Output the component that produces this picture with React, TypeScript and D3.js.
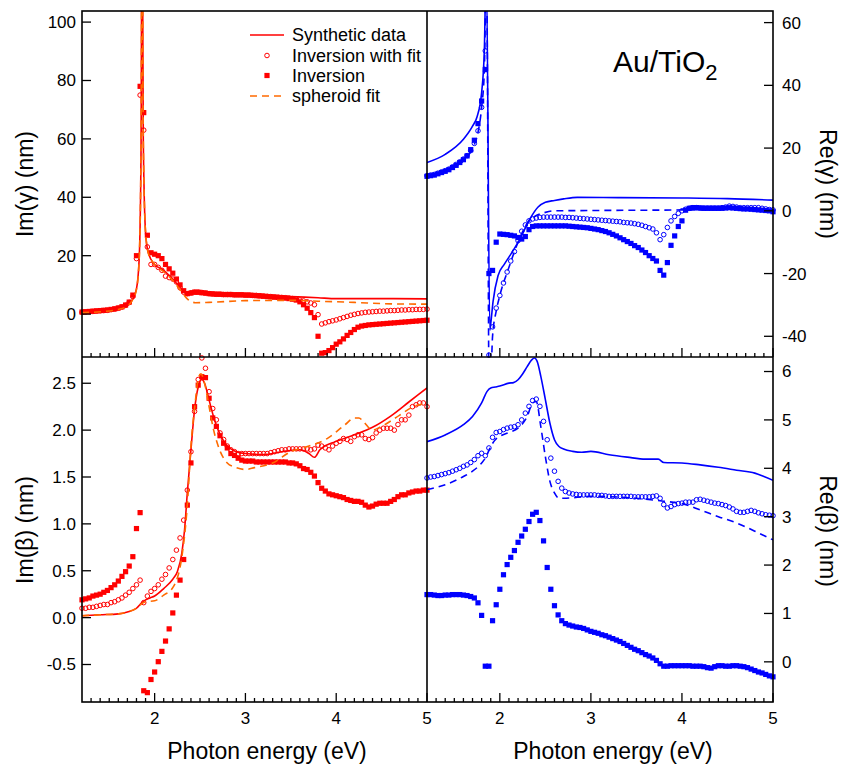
import React from "react";
import * as d3 from "d3";

// ---------- shared energy grid for the inversion markers (eV) ----------
const energyGrid = [
  1.20,1.24,1.28,1.32,1.36,1.40,1.44,1.48,1.52,1.56,
  1.60,1.64,1.68,1.72,1.76,1.80,1.84,1.88,1.92,1.96,
  2.00,2.04,2.08,2.12,2.16,2.20,2.24,2.28,2.32,2.36,
  2.40,2.44,2.48,2.52,2.56,2.60,2.64,2.68,2.72,2.76,
  2.80,2.84,2.88,2.92,2.96,3.00,3.04,3.08,3.12,3.16,
  3.20,3.24,3.28,3.32,3.36,3.40,3.44,3.48,3.52,3.56,
  3.60,3.64,3.68,3.72,3.76,3.80,3.84,3.88,3.92,3.96,
  4.00,4.04,4.08,4.12,4.16,4.20,4.24,4.28,4.32,4.36,
  4.40,4.44,4.48,4.52,4.56,4.60,4.64,4.68,4.72,4.76,
  4.80,4.84,4.88,4.92,4.96,5.00,
];

// ---------- Im(gamma) ----------
const imGammaCircles = [
  0.6,0.7,0.8,0.9,1.0,1.1,1.2,1.3,1.5,1.7,
  2.0,2.4,3.0,4.0,6.0,19,75,63,23,17,
  17,16,15,13,12.5,12,11,9,7.5,7,
  7.3,7.5,7.5,7.4,7.2,7.0,6.9,6.8,6.8,6.7,
  6.7,6.7,6.6,6.6,6.6,6.5,6.5,6.4,6.4,6.3,
  6.2,6.1,6.0,5.9,5.8,5.7,5.6,5.5,5.3,5.1,
  4.8,4.5,4.2,3.8,3.2,-0.2,-3.4,-3.0,-2.6,-2.3,
  -2.0,-1.6,-1.2,-0.8,-0.4,-0.1,0.2,0.4,0.6,0.7,
  0.8,0.9,1.0,1.0,1.1,1.2,1.2,1.3,1.4,1.4,
  1.5,1.5,1.6,1.6,1.6,1.7,
];
const imGammaSquares = [
  0.7,0.8,0.9,1.0,1.1,1.2,1.3,1.4,1.6,1.8,
  2.1,2.5,3.1,4.1,6.5,20,78,69,27,21,
  20.5,20,19,17,15.5,14,12,10,8,7,
  7.2,7.5,7.5,7.3,7.2,7.0,6.9,6.8,6.8,6.7,
  6.7,6.7,6.6,6.6,6.6,6.5,6.5,6.4,6.3,6.2,
  6.1,6.0,5.9,5.8,5.7,5.6,5.5,5.3,5.1,4.8,
  4.2,3.2,2.0,0.5,-1.2,-7.6,-13.4,-13.2,-12.5,-11.5,
  -10.3,-9.5,-8.5,-7.3,-6.3,-5.3,-4.5,-4.1,-3.9,-3.7,
  -3.6,-3.5,-3.4,-3.3,-3.2,-3.1,-3.0,-2.9,-2.8,-2.7,
  -2.6,-2.5,-2.4,-2.3,-2.2,-2.1,
];
const imGammaSynthE = [1.2,1.4,1.6,1.7,1.75,1.8,1.83,1.85,1.862,1.875,1.9,1.93,2.0,2.1,2.2,2.3,2.35,2.45,2.5,2.7,3.0,3.3,3.5,3.8,4.0,4.5,5.0];
const imGammaSynth = [0.6,0.9,1.7,2.9,4.6,8.6,19,55,150,60,28,21,17,15,12,8.5,7.2,7.4,7.5,7.0,6.6,6.3,6.0,5.6,5.3,5.3,5.2];
const imGammaFitE = [1.2,1.4,1.6,1.7,1.75,1.8,1.83,1.85,1.862,1.875,1.9,1.93,2.0,2.1,2.2,2.3,2.36,2.45,2.6,3.0,3.5,3.8,4.2,4.6,5.0];
const imGammaFit = [0.5,0.8,1.6,2.8,4.5,8.5,19,55,150,60,28,21,17,14.5,11.5,7.5,5.2,3.9,4.0,4.6,4.7,4.4,4.0,3.5,3.4];

// ---------- Re(gamma) ----------
const reGammaCircles = [
  11.2,11.4,11.6,12.0,12.4,12.8,13.3,14.0,14.8,15.6,
  16.5,17.6,19.2,21.5,25.5,33,51,-46,-37,-31,
  -27,-23,-19.5,-16,-13,-9.5,-6.5,-4.5,-3.2,-2.6,
  -2.3,-2.1,-2.0,-2.0,-2.0,-2.0,-2.0,-2.0,-2.1,-2.1,
  -2.2,-2.3,-2.4,-2.5,-2.6,-2.7,-2.8,-2.9,-3.0,-3.1,
  -3.2,-3.3,-3.4,-3.5,-3.7,-3.8,-3.9,-4.1,-4.3,-4.6,
  -5.0,-5.4,-5.8,-7.0,-9.2,-7.6,-5.3,-3.2,-1.8,-0.8,
  0.0,0.5,0.8,1.0,1.0,0.9,0.9,0.9,0.9,0.9,
  0.9,1.0,1.2,1.5,1.4,1.2,1.0,1.0,1.0,1.0,
  1.0,1.0,0.8,0.6,0.4,0.3,
];
const reGammaSquares = [
  11.0,11.2,11.4,11.8,12.2,12.6,13.1,13.8,14.5,15.4,
  16.3,17.5,19.5,22.5,27.8,35,45,-20,-19,-10,
  -7.4,-7.5,-7.6,-7.8,-8.0,-8.5,-9.0,-8.2,-6.0,-5.0,
  -4.8,-4.8,-4.8,-4.8,-4.8,-4.8,-4.8,-4.8,-4.8,-4.9,
  -5.0,-5.1,-5.2,-5.3,-5.4,-5.6,-5.8,-6.0,-6.3,-6.6,
  -7.0,-7.5,-8.0,-8.6,-9.2,-9.8,-10.4,-11.1,-11.7,-12.5,
  -13.3,-14.3,-15.2,-16.0,-19.0,-20.5,-16.5,-11.0,-8.0,-5.0,
  -3.2,0.2,0.8,1.0,1.0,0.9,0.8,0.8,0.8,0.8,
  0.8,0.8,0.9,1.0,0.9,0.8,0.7,0.6,0.6,0.5,
  0.4,0.3,0.2,0.1,0.0,-0.3,
];
const reGammaSynthE = [1.2,1.4,1.6,1.7,1.75,1.8,1.83,1.848,1.853,1.89,1.9,1.925,1.98,2.05,2.11,2.22,2.33,2.42,2.5,2.6,2.7,2.85,3.3,4.0,4.5,5.0];
const reGammaSynth = [15.4,18,22.8,27,30,37.7,51.5,75,75,-38,-36,-29,-20.7,-17,-14.3,-9,-2.6,1.2,2.7,3.3,3.8,4.3,4.2,4.1,3.9,3.4];
const reGammaFitE = [1.2,1.4,1.6,1.7,1.76,1.8,1.83,1.848,1.856,1.885,1.92,1.96,2.0,2.1,2.2,2.3,2.4,2.5,2.6,3.0,4.0,4.5,5.0];
const reGammaFit = [11,12.5,16,20,25,33,45,70,70,-70,-40,-32,-27,-18,-10,-4,-1.5,-0.5,0,0.1,0.3,0.6,0.3];

// ---------- Im(beta) ----------
const imBetaCircles = [
  0.10,0.10,0.11,0.11,0.12,0.13,0.14,0.14,0.16,0.17,
  0.19,0.21,0.24,0.27,0.31,0.35,0.40,0.16,0.23,0.28,
  0.31,0.35,0.41,0.46,0.53,0.62,0.72,0.85,1.04,1.36,
  1.77,2.20,2.54,2.77,2.66,2.41,2.23,2.11,1.97,1.90,
  1.83,1.79,1.77,1.75,1.75,1.75,1.75,1.75,1.75,1.75,
  1.75,1.75,1.76,1.77,1.78,1.79,1.79,1.80,1.80,1.80,
  1.80,1.80,1.80,1.79,1.80,1.84,1.83,1.81,1.79,1.83,
  1.86,1.88,1.91,1.90,1.88,1.93,1.95,1.95,1.91,1.90,
  1.92,1.97,2.00,2.02,2.02,2.02,2.00,2.06,2.11,2.11,
  2.16,2.25,2.27,2.29,2.29,2.25,
];
const imBetaSquares = [
  0.19,0.20,0.21,0.23,0.24,0.25,0.27,0.29,0.32,0.35,
  0.39,0.44,0.49,0.55,0.65,0.95,1.12,-0.78,-0.80,-0.66,
  -0.58,-0.47,-0.36,-0.25,-0.12,0.05,0.24,0.40,0.62,1.20,
  1.65,2.25,2.48,2.57,2.56,2.34,2.13,2.04,1.94,1.86,
  1.81,1.75,1.73,1.70,1.68,1.67,1.67,1.67,1.66,1.66,
  1.66,1.66,1.66,1.66,1.66,1.66,1.66,1.65,1.65,1.64,
  1.62,1.59,1.58,1.55,1.51,1.44,1.38,1.35,1.32,1.31,
  1.30,1.29,1.28,1.26,1.25,1.24,1.24,1.23,1.20,1.18,
  1.19,1.21,1.22,1.22,1.22,1.24,1.26,1.29,1.31,1.31,
  1.33,1.34,1.35,1.35,1.36,1.36,
];
const imBetaSynthE = [1.2,1.4,1.6,1.7,1.8,1.86,1.9,1.95,2.0,2.1,2.2,2.25,2.3,2.33,2.36,2.4,2.44,2.48,2.52,2.55,2.6,2.65,2.7,2.75,2.8,2.9,3.0,3.2,3.4,3.6,3.7,3.76,3.82,4.0,4.2,4.4,4.6,4.8,5.0];
const imBetaSynth = [0.02,0.03,0.04,0.06,0.10,0.16,0.19,0.21,0.23,0.31,0.41,0.49,0.69,0.94,1.33,1.79,2.22,2.46,2.54,2.5,2.32,2.14,2.0,1.9,1.83,1.77,1.75,1.74,1.77,1.79,1.75,1.71,1.79,1.88,1.95,2.03,2.15,2.30,2.45];
const imBetaFitE = [1.2,1.4,1.6,1.7,1.8,1.86,1.9,2.0,2.1,2.2,2.3,2.36,2.4,2.45,2.48,2.51,2.55,2.6,2.65,2.7,2.8,2.9,3.0,3.1,3.3,3.5,3.7,3.9,4.1,4.2,4.25,4.3,4.4,4.5,4.7,4.85,5.0];
const imBetaFit = [0.02,0.03,0.04,0.06,0.10,0.15,0.17,0.18,0.24,0.32,0.65,1.2,1.83,2.32,2.55,2.6,2.5,2.25,2.0,1.83,1.65,1.6,1.58,1.6,1.65,1.77,1.83,1.91,2.06,2.13,2.13,2.09,2.0,2.04,2.16,2.25,2.29];

// ---------- Re(beta) ----------
const reBetaCircles = [
  3.80,3.82,3.83,3.85,3.87,3.89,3.91,3.94,3.97,4.00,
  4.04,4.07,4.12,4.18,4.26,4.31,4.26,4.42,4.64,4.74,
  4.76,4.80,4.83,4.85,4.86,4.90,5.00,5.14,5.28,5.40,
  5.43,5.28,4.97,4.59,4.21,3.94,3.73,3.59,3.52,3.49,
  3.47,3.46,3.45,3.45,3.45,3.45,3.45,3.44,3.44,3.43,
  3.42,3.42,3.42,3.42,3.42,3.42,3.42,3.41,3.41,3.41,
  3.41,3.41,3.42,3.43,3.38,3.25,3.18,3.21,3.25,3.27,
  3.28,3.30,3.30,3.30,3.35,3.36,3.34,3.32,3.30,3.28,
  3.27,3.25,3.23,3.20,3.16,3.11,3.09,3.09,3.11,3.13,
  3.11,3.08,3.06,3.04,3.03,3.02,
];
const reBetaSquares = [
  1.39,1.39,1.38,1.37,1.37,1.38,1.38,1.39,1.39,1.39,
  1.38,1.37,1.35,1.32,1.22,0.96,-0.09,-0.09,0.85,1.18,
  1.50,1.80,2.01,2.16,2.30,2.47,2.60,2.74,2.90,3.05,
  3.09,2.92,2.50,1.95,1.50,1.16,0.97,0.85,0.79,0.76,
  0.74,0.72,0.71,0.69,0.66,0.63,0.61,0.59,0.56,0.54,
  0.51,0.48,0.45,0.42,0.38,0.34,0.30,0.26,0.23,0.19,
  0.15,0.12,0.08,0.03,-0.04,-0.09,-0.09,-0.08,-0.08,-0.08,
  -0.08,-0.08,-0.08,-0.09,-0.09,-0.09,-0.10,-0.12,-0.13,-0.10,
  -0.08,-0.08,-0.09,-0.09,-0.08,-0.08,-0.09,-0.10,-0.12,-0.15,
  -0.18,-0.21,-0.23,-0.26,-0.29,-0.31,
];
const reBetaSynthE = [1.2,1.4,1.6,1.7,1.8,1.86,1.9,1.95,2.0,2.1,2.15,2.2,2.25,2.3,2.35,2.38,2.41,2.45,2.5,2.55,2.6,2.65,2.7,2.8,2.9,3.0,3.2,3.4,3.6,3.74,3.8,4.0,4.2,4.4,4.6,4.8,4.9,5.0];
const reBetaSynth = [4.55,4.69,4.9,5.07,5.35,5.59,5.66,5.68,5.7,5.76,5.77,5.83,5.95,6.1,6.24,6.28,6.21,5.9,5.42,4.93,4.59,4.45,4.4,4.35,4.33,4.35,4.28,4.23,4.19,4.19,4.12,4.11,4.07,4.02,3.96,3.9,3.83,3.75];
const reBetaFitE = [1.2,1.4,1.6,1.7,1.8,1.84,1.9,1.95,2.0,2.1,2.2,2.3,2.36,2.4,2.45,2.5,2.55,2.6,2.65,2.7,3.0,3.5,3.8,4.0,4.2,4.4,4.6,4.8,5.0];
const reBetaFit = [3.56,3.66,3.83,3.94,4.11,4.21,4.45,4.59,4.66,4.74,4.83,5.07,5.35,5.38,4.86,4.24,3.73,3.49,3.38,3.38,3.42,3.38,3.32,3.27,3.14,3.0,2.87,2.7,2.52];

// ---------- axis ticks / labels ----------
const xLabelTicks = [2, 3, 4, 5];
const imGammaTicks = [0, 20, 40, 60, 80, 100];
const reGammaTicks = [-40, -20, 0, 20, 40, 60];
const imBetaTicks = [-0.5, 0, 0.5, 1, 1.5, 2, 2.5];
const reBetaTicks = [0, 1, 2, 3, 4, 5, 6];
const legendLabels = ["Synthetic data", "Inversion with fit", "Inversion", "spheroid fit"];

const RED = "#ff0000";
const ORANGE = "#ff6a00";
const BLUE = "#0000ff";
const FONT = "'Liberation Sans', Arial, Helvetica, sans-serif";

const X0 = 82, XM = 427, X1 = 773;
const Y0 = 11, YM = 357, Y1 = 702;

type PanelDef = {
  id: string;
  xr: [number, number];
  yr: [number, number];
  dom: [number, number];
  ticks: number[];
  fmt: (v: number) => string;
  side: "left" | "right";
  col: string;
  fitCol: string;
  synthE: number[]; synth: number[];
  fitE: number[]; fit: number[];
  circ: number[]; sq: number[];
  xLabels: boolean;
};

const panels: PanelDef[] = [
  { id: "a", xr: [X0, XM], yr: [YM, Y0], dom: [-14.7, 103.8], ticks: imGammaTicks, fmt: v => String(v), side: "left",
    col: RED, fitCol: ORANGE, synthE: imGammaSynthE, synth: imGammaSynth, fitE: imGammaFitE, fit: imGammaFit,
    circ: imGammaCircles, sq: imGammaSquares, xLabels: false },
  { id: "b", xr: [XM, X1], yr: [YM, Y0], dom: [-46.6, 63.7], ticks: reGammaTicks, fmt: v => String(v), side: "right",
    col: BLUE, fitCol: BLUE, synthE: reGammaSynthE, synth: reGammaSynth, fitE: reGammaFitE, fit: reGammaFit,
    circ: reGammaCircles, sq: reGammaSquares, xLabels: false },
  { id: "c", xr: [X0, XM], yr: [Y1, YM], dom: [-0.9, 2.78], ticks: imBetaTicks, fmt: v => v.toFixed(1), side: "left",
    col: RED, fitCol: ORANGE, synthE: imBetaSynthE, synth: imBetaSynth, fitE: imBetaFitE, fit: imBetaFit,
    circ: imBetaCircles, sq: imBetaSquares, xLabels: true },
  { id: "d", xr: [XM, X1], yr: [Y1, YM], dom: [-0.83, 6.30], ticks: reBetaTicks, fmt: v => String(v), side: "right",
    col: BLUE, fitCol: BLUE, synthE: reBetaSynthE, synth: reBetaSynth, fitE: reBetaFitE, fit: reBetaFit,
    circ: reBetaCircles, sq: reBetaSquares, xLabels: true },
];

function Panel({ p }: { p: PanelDef }) {
  const x = d3.scaleLinear().domain([1.2, 5]).range(p.xr);
  const y = d3.scaleLinear().domain(p.dom).range(p.yr);
  const line = d3.line<[number, number]>().x(d => x(d[0])).y(d => y(d[1])).curve(d3.curveMonotoneX);
  const synthPts = p.synthE.map((e, i) => [e, p.synth[i]] as [number, number]);
  const fitPts = p.fitE.map((e, i) => [e, p.fit[i]] as [number, number]);
  const minor = d3.range(13, 51).map(i => i / 10);
  const yb = p.yr[0];
  const clip = `clip-${p.id}`;
  return (
    <g>
      <defs>
        <clipPath id={clip}>
          <rect x={p.xr[0]} y={p.yr[1]} width={p.xr[1] - p.xr[0]} height={p.yr[0] - p.yr[1]} />
        </clipPath>
      </defs>
      {/* squares (Inversion) */}
      <g fill={p.col}>
        {energyGrid.map((e, i) => (
          <rect key={i} x={x(e) - 2.6} y={y(p.sq[i]) - 2.6} width={5.2} height={5.2} />
        ))}
      </g>
      {/* circles (Inversion with fit) */}
      <g fill="none" stroke={p.col} strokeWidth={1}>
        {energyGrid.map((e, i) => (
          <circle key={i} cx={x(e)} cy={y(p.circ[i])} r={2.3} />
        ))}
      </g>
      <g clipPath={`url(#${clip})`}>
        <path d={line(synthPts) || ""} fill="none" stroke={p.col} strokeWidth={1.6} />
        <path d={line(fitPts) || ""} fill="none" stroke={p.fitCol} strokeWidth={1.6} strokeDasharray="7,5" />
      </g>
      {/* x ticks (inward) */}
      <g stroke="#000" strokeWidth={1.3}>
        {minor.map((t, i) => {
          const major = Math.abs(t - Math.round(t)) < 1e-6;
          return <line key={i} x1={x(t)} x2={x(t)} y1={yb} y2={yb - (major ? 9 : 4)} />;
        })}
      </g>
      {/* y ticks (inward) */}
      <g stroke="#000" strokeWidth={1.3}>
        {p.ticks.map((t, i) => {
          const xa = p.side === "left" ? p.xr[0] : p.xr[1];
          const xb = p.side === "left" ? xa + 9 : xa - 9;
          return <line key={i} x1={xa} x2={xb} y1={y(t)} y2={y(t)} />;
        })}
      </g>
      <g fontFamily={FONT} fontSize={17} fill="#000">
        {p.ticks.map((t, i) => (
          <text key={i} x={p.side === "left" ? p.xr[0] - 6 : p.xr[1] + 9} y={y(t)} dy="0.35em"
            textAnchor={p.side === "left" ? "end" : "start"}>{p.fmt(t)}</text>
        ))}
        {p.xLabels && xLabelTicks.map((t, i) => (
          <text key={i} x={x(t)} y={724} textAnchor="middle">{String(t)}</text>
        ))}
      </g>
    </g>
  );
}

export default function App() {
  const lg = { x1: 250, x2: 284, tx: 292, ys: [35, 55.5, 75.5, 96] };
  return (
    <svg width={846} height={765} style={{ position: "absolute", left: 0, top: 0, background: "#fff" }}
      xmlns="http://www.w3.org/2000/svg">
      <rect x={0} y={0} width={846} height={765} fill="#fff" />
      {panels.map(p => <Panel key={p.id} p={p} />)}
      {/* frame */}
      <g stroke="#000" strokeWidth={1.6} fill="none">
        <rect x={X0} y={Y0} width={X1 - X0} height={Y1 - Y0} />
        <line x1={X0} x2={X1} y1={YM} y2={YM} />
        <line x1={XM} x2={XM} y1={Y0} y2={Y1} />
      </g>
      {/* legend */}
      <g fontFamily={FONT} fontSize={18} fill="#000">
        <line x1={lg.x1} x2={lg.x2} y1={lg.ys[0]} y2={lg.ys[0]} stroke={RED} strokeWidth={1.6} />
        <circle cx={(lg.x1 + lg.x2) / 2} cy={lg.ys[1]} r={2.3} fill="none" stroke={RED} strokeWidth={1} />
        <rect x={(lg.x1 + lg.x2) / 2 - 2.6} y={lg.ys[2] - 2.6} width={5.2} height={5.2} fill={RED} />
        <line x1={lg.x1} x2={lg.x2} y1={lg.ys[3]} y2={lg.ys[3]} stroke={ORANGE} strokeWidth={1.6} strokeDasharray="7,5" />
        {legendLabels.map((t, i) => (
          <text key={i} x={lg.tx} y={lg.ys[i]} dy="0.35em">{t}</text>
        ))}
      </g>
      {/* annotation */}
      <text x={613} y={72} fontFamily={FONT} fontSize={30} fill="#000">
        Au/TiO<tspan fontSize={22} dy={8}>2</tspan>
      </text>
      {/* axis titles */}
      <g fontFamily={FONT} fontSize={23} fill="#000">
        <text transform="translate(33,184) rotate(-90)" textAnchor="middle">Im(γ) (nm)</text>
        <text transform="translate(33,530) rotate(-90)" textAnchor="middle">Im(β) (nm)</text>
        <text transform="translate(820,184) rotate(90)" textAnchor="middle">Re(γ) (nm)</text>
        <text transform="translate(820,531) rotate(90)" textAnchor="middle">Re(β) (nm)</text>
        <text x={267} y={759} textAnchor="middle">Photon energy (eV)</text>
        <text x={613} y={759} textAnchor="middle">Photon energy (eV)</text>
      </g>
    </svg>
  );
}
